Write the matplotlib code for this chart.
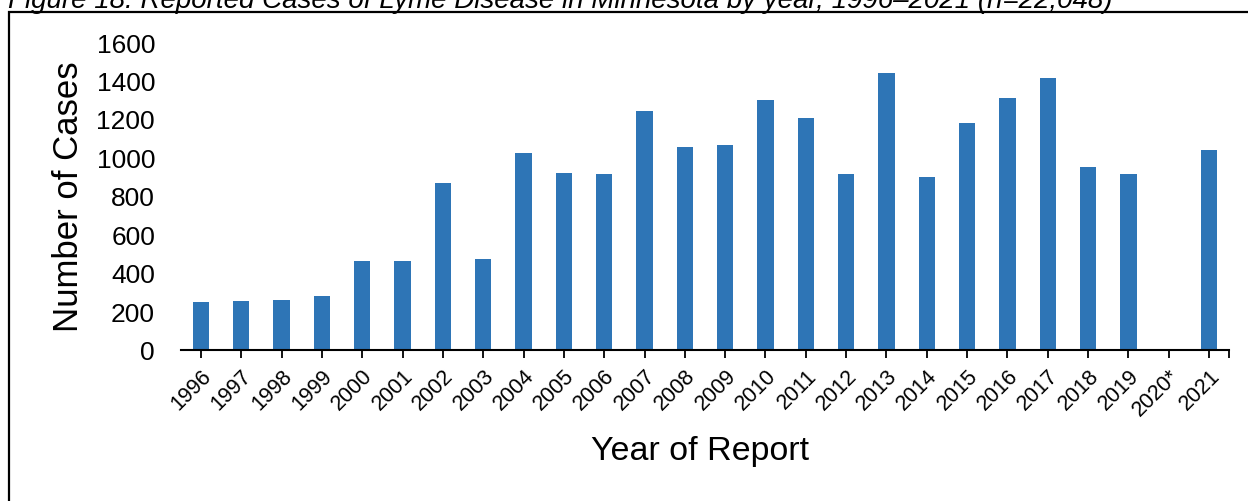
import matplotlib
matplotlib.use("Agg")
import matplotlib.pyplot as plt
import matplotlib.transforms as mtransforms
from matplotlib.patches import Rectangle

# --- data ---
years = ["1996", "1997", "1998", "1999", "2000", "2001", "2002", "2003", "2004",
         "2005", "2006", "2007", "2008", "2009", "2010", "2011", "2012", "2013",
         "2014", "2015", "2016", "2017", "2018", "2019", "2020*", "2021"]
cases = [250, 252, 257, 279, 462, 461, 868, 473, 1024,
         917, 914, 1241, 1052, 1066, 1297, 1207, 913, 1437,
         899, 1181, 1309, 1412, 951, 914, 0, 1036]
yticks = [0, 200, 400, 600, 800, 1000, 1200, 1400, 1600]

plt.rcParams['font.family'] = ['Liberation Sans', 'DejaVu Sans']

fig = plt.figure(figsize=(12.48, 5.02), dpi=100)
ax = fig.add_axes([180.7/1248, 1 - 350.7/502, (1229.3 - 180.7)/1248, (350.7 - 43)/502])

x = list(range(len(years)))
ax.bar(x, cases, width=0.4, color="#2E75B6")

ax.set_xlim(-0.5, len(years) - 0.5)
ax.set_ylim(0, 1600)
ax.set_yticks(yticks)
ax.set_yticklabels([str(v) for v in yticks], fontsize=19)
ax.set_xticks(x)
ax.set_xticklabels(years, rotation=45, ha="right", rotation_mode="anchor", fontsize=15.5)
# closing tick at the right end of the category axis
ax.set_xticks([len(years) - 0.5], minor=True)

# nudge the slanted year labels a little to the right, as in the source
shift = mtransforms.ScaledTranslation(5/100, 0, fig.dpi_scale_trans)
for lab in ax.get_xticklabels():
    lab.set_transform(lab.get_transform() + shift)

for s in ["top", "right", "left"]:
    ax.spines[s].set_visible(False)
ax.spines["bottom"].set_linewidth(1.5)
ax.tick_params(axis="y", length=0, pad=18.5)
ax.tick_params(axis="x", which="both", length=6, width=1.3, direction="out", pad=5)

ax.set_ylabel("Number of Cases", fontsize=25, labelpad=8)
fig.text(700/1248, 1 - 452/502, "Year of Report", fontsize=24.5, ha="center", va="center")

# caption, cut off at top like the source
fig.text(8/1248, 1 - 8/502, "Figure 18. Reported Cases of Lyme Disease in Minnesota by year, 1996\u20132021 (n=22,048)",
         fontsize=20, style="italic", ha="left", va="baseline")

# frame around the chart
fig.patches.append(Rectangle((9/1248, -0.1), 1.2, 1.1 - 13/502, transform=fig.transFigure,
                             fill=False, edgecolor="black", linewidth=1.6))

fig.savefig("out.png", dpi=100)
